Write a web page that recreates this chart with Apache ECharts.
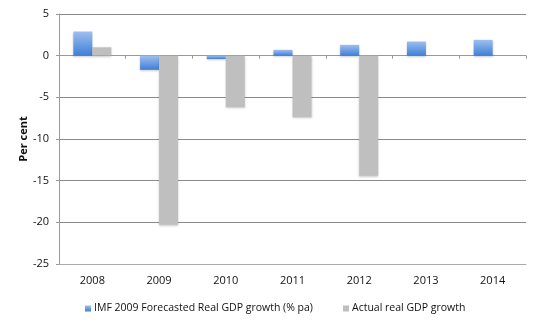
<!DOCTYPE html>
<html><head><meta charset="utf-8">
<script src="https://cdn.jsdelivr.net/npm/echarts@6/dist/echarts.min.js"></script>
<style>html,body{margin:0;padding:0;background:#fff}#c{width:539px;height:324px}</style>
</head><body><div id="c"></div>
<script>
const years = ['2008','2009','2010','2011','2012','2013','2014'];
const imfForecast = [2.9, -1.7, -0.4, 0.7, 1.3, 1.7, 1.9];
const actualGrowth = [1.0, -20.3, -6.2, -7.4, -14.4, null, null];
const yTicks = {min: -25, max: 5, interval: 5};
const names = ['IMF 2009 Forecasted Real GDP growth (% pa)', 'Actual real GDP growth'];

const font = 'Open Sans';
const chart = echarts.init(document.getElementById('c'));
const blue = new echarts.graphic.LinearGradient(0,0,0,1,[{offset:0,color:'#9dbff0'},{offset:1,color:'#3f7fd6'}]);
chart.setOption({
  animation: false,
  grid: {left: 59, right: 13, top: 14, bottom: 60},
  legend: [
    {data: [names[0]], left: 80, top: 298, icon: 'rect', itemWidth: 6, itemHeight: 6,
     textStyle: {fontFamily: font, fontSize: 10.5, color: '#111', padding: [0,0,0,-2]}},
    {data: [names[1]], left: 338, top: 298, icon: 'rect', itemWidth: 6, itemHeight: 6,
     textStyle: {fontFamily: font, fontSize: 10.5, color: '#111', padding: [0,0,0,-2]}}
  ],
  xAxis: [
    {type: 'category', data: years, position: 'bottom',
     axisLine: {onZero: false, lineStyle: {color: '#aaa', width: 1}},
     axisTick: {show: false},
     axisLabel: {fontFamily: font, fontSize: 11, color: '#111', margin: 11}},
    {type: 'category', data: years, position: 'bottom',
     axisLine: {onZero: true, lineStyle: {color: '#999'}},
     axisTick: {show: true, length: 3, lineStyle: {color: '#999'}},
     axisLabel: {show: false}}
  ],
  yAxis: {type: 'value', min: yTicks.min, max: yTicks.max, interval: yTicks.interval,
    name: 'Per cent', nameLocation: 'middle', nameGap: 30, nameRotate: 90, nameMoveOverlap: false,
    nameTextStyle: {fontFamily: font, fontSize: 11, fontWeight: 'bold', color: '#111'},
    axisLine: {show: true, lineStyle: {color: '#999'}},
    axisTick: {show: true, length: 3, lineStyle: {color: '#999'}},
    axisLabel: {fontFamily: font, fontSize: 11, color: '#111', margin: 10},
    splitLine: {lineStyle: {color: '#8a8a8a'}}
  },
  series: [
    {name: names[0], type: 'bar', data: imfForecast, barWidth: 19, barGap: '0%',
     itemStyle: {color: blue, shadowColor: 'rgba(0,0,0,0.2)', shadowBlur: 2, shadowOffsetY: 1}},
    {name: names[1], type: 'bar', data: actualGrowth, barWidth: 19, barGap: '0%',
     itemStyle: {color: '#bfbfbf', shadowColor: 'rgba(0,0,0,0.2)', shadowBlur: 2, shadowOffsetY: 1}}
  ]
});
</script></body></html>
